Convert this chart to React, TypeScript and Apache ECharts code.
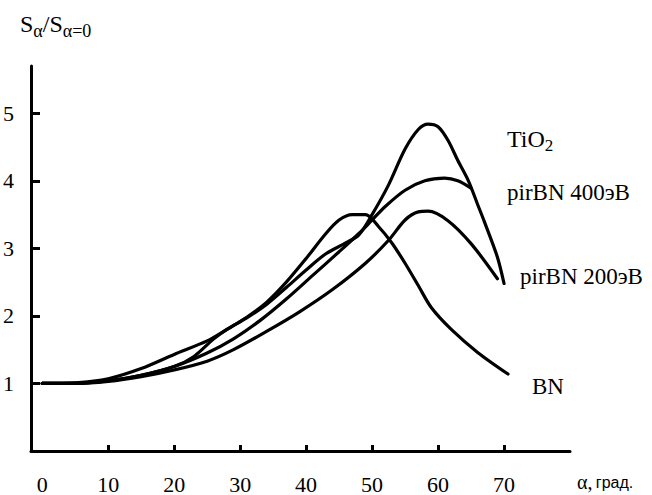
import { useEffect, useRef } from "react";
import * as echarts from "echarts";

// ---- data ----
const xLabelValues = [0, 10, 20, 30, 40, 50, 60, 70];
const xTickValues = [10, 20, 30, 40, 50, 60, 70];
const yTickValues = [1, 2, 3, 4, 5];

const tiO2Alpha = [0, 5, 10, 15, 20, 23, 26, 28, 31, 34, 37, 40, 43, 46, 48, 50, 52.5, 55, 57, 58.5, 60, 61.5, 63, 64.6, 66, 67, 69, 70];
const tiO2Ratio = [1, 1.0, 1.04, 1.12, 1.25, 1.4, 1.66, 1.8, 1.97, 2.17, 2.42, 2.68, 2.92, 3.08, 3.2, 3.5, 3.94, 4.47, 4.76, 4.84, 4.8, 4.6, 4.3, 4.0, 3.65, 3.4, 2.87, 2.48];

const bn400Alpha = [0, 5, 10, 15, 20, 25, 29, 33, 37, 41, 45, 48, 50, 52, 55, 58, 61, 63, 65];
const bn400Ratio = [1, 1.0, 1.04, 1.12, 1.25, 1.45, 1.66, 1.93, 2.25, 2.6, 2.95, 3.22, 3.42, 3.62, 3.86, 4.0, 4.04, 4.0, 3.89];

const bn200Alpha = [0, 5, 10, 15, 20, 25, 29, 34, 39, 44, 49, 52.5, 55, 57, 58.5, 61.5, 65, 69];
const bn200Ratio = [1, 1.0, 1.03, 1.1, 1.2, 1.33, 1.5, 1.77, 2.06, 2.39, 2.78, 3.12, 3.42, 3.54, 3.55, 3.41, 3.07, 2.55];

const bnAlpha = [0, 5, 10, 15, 20, 25, 28, 31, 34, 37, 40, 43, 45, 47, 49, 51, 53, 55, 57, 59, 62, 66, 70.6];
const bnRatio = [1, 1.01, 1.07, 1.22, 1.43, 1.63, 1.8, 1.98, 2.2, 2.5, 2.85, 3.22, 3.42, 3.5, 3.5, 3.32, 3.08, 2.78, 2.45, 2.12, 1.8, 1.46, 1.14];

const zip = (xs: number[], ys: number[]) => xs.map((x, i) => [x, ys[i]]);

const SERIF = "Liberation Serif";
const SANS = "Liberation Sans";

export default function App() {
  const ref = useRef<HTMLDivElement>(null);

  useEffect(() => {
    if (!ref.current) return;
    const chart = echarts.init(ref.current, null, { renderer: "svg" });

    const lineSeries = (name: string, data: number[][]) => ({
      name,
      type: "line",
      data,
      showSymbol: false,
      symbol: "none",
      smooth: 0.3,
      lineStyle: { color: "#000", width: 3.2, cap: "round", join: "round" },
      z: 3,
    });

    chart.setOption({
      animation: false,
      backgroundColor: "#fff",
      textStyle: { fontFamily: SERIF },
      grid: { left: 28, right: 82, top: 66, bottom: 37.5, containLabel: false },
      xAxis: {
        type: "value",
        min: -1.7,
        max: 80,
        splitLine: { show: false },
        axisLine: { show: true, onZero: true, lineStyle: { color: "#000", width: 3 } },
        axisTick: {
          show: true,
          inside: true,
          length: 6,
          customValues: xTickValues,
          lineStyle: { color: "#000", width: 3 },
        },
        axisLabel: {
          customValues: xLabelValues,
          margin: 22,
          fontSize: 22,
          fontFamily: SERIF,
          color: "#000",
        },
      },
      yAxis: {
        type: "value",
        min: 0,
        max: 5.7,
        splitLine: { show: false },
        axisLine: { show: true, onZero: false, lineStyle: { color: "#000", width: 3 } },
        axisTick: {
          show: true,
          inside: true,
          length: 9,
          customValues: yTickValues,
          lineStyle: { color: "#000", width: 3 },
        },
        axisLabel: {
          customValues: yTickValues,
          margin: 17,
          fontSize: 22,
          fontFamily: SERIF,
          color: "#000",
        },
      },
      series: [
        lineSeries("TiO2", zip(tiO2Alpha, tiO2Ratio)),
        lineSeries("pirBN 400эВ", zip(bn400Alpha, bn400Ratio)),
        lineSeries("pirBN 200эВ", zip(bn200Alpha, bn200Ratio)),
        lineSeries("BN", zip(bnAlpha, bnRatio)),
      ],
      graphic: [
        {
          type: "text",
          x: 20,
          y: 12,
          style: {
            text: "{s|S}{sub|α}{s|/S}{sub|α=0}",
            verticalAlign: "top",
            rich: {
              s: { fontSize: 24, fontFamily: SERIF, fill: "#000", verticalAlign: "top", lineHeight: 24 },
              sub: { fontSize: 18, fontFamily: SERIF, fill: "#000", verticalAlign: "top", lineHeight: 18, padding: [10, 0, 0, 0] },
            },
          },
        },
        {
          type: "text",
          x: 507,
          y: 126.5,
          style: {
            text: "{m|TiO}{sub|2}",
            verticalAlign: "top",
            rich: {
              m: { fontSize: 24, fontFamily: SERIF, fill: "#000", verticalAlign: "top", lineHeight: 24 },
              sub: { fontSize: 17, fontFamily: SERIF, fill: "#000", verticalAlign: "top", lineHeight: 17, padding: [10, 0, 0, 0] },
            },
          },
        },
        {
          type: "text",
          x: 507,
          y: 192.5,
          style: { text: "pirBN 400эВ", fontSize: 23, fontFamily: SERIF, fill: "#000", verticalAlign: "middle" },
        },
        {
          type: "text",
          x: 520,
          y: 276.5,
          style: { text: "pirBN 200эВ", fontSize: 23, fontFamily: SERIF, fill: "#000", verticalAlign: "middle" },
        },
        {
          type: "text",
          x: 532,
          y: 386.5,
          style: { text: "BN", fontSize: 23, fontFamily: SERIF, fill: "#000", verticalAlign: "middle" },
        },
        {
          type: "text",
          x: 577,
          y: 482,
          style: {
            text: "{a|α,} {b|град.}",
            verticalAlign: "middle",
            rich: {
              a: { fontSize: 20, fontFamily: SERIF, fill: "#000", lineHeight: 16 },
              b: { fontSize: 16, fontFamily: SANS, fill: "#000", lineHeight: 16 },
            },
          },
        },
      ],
    });

    return () => chart.dispose();
  }, []);

  return (
    <div
      ref={ref}
      style={{ position: "fixed", left: 0, top: 0, width: 652, height: 495, background: "#fff" }}
    />
  );
}
